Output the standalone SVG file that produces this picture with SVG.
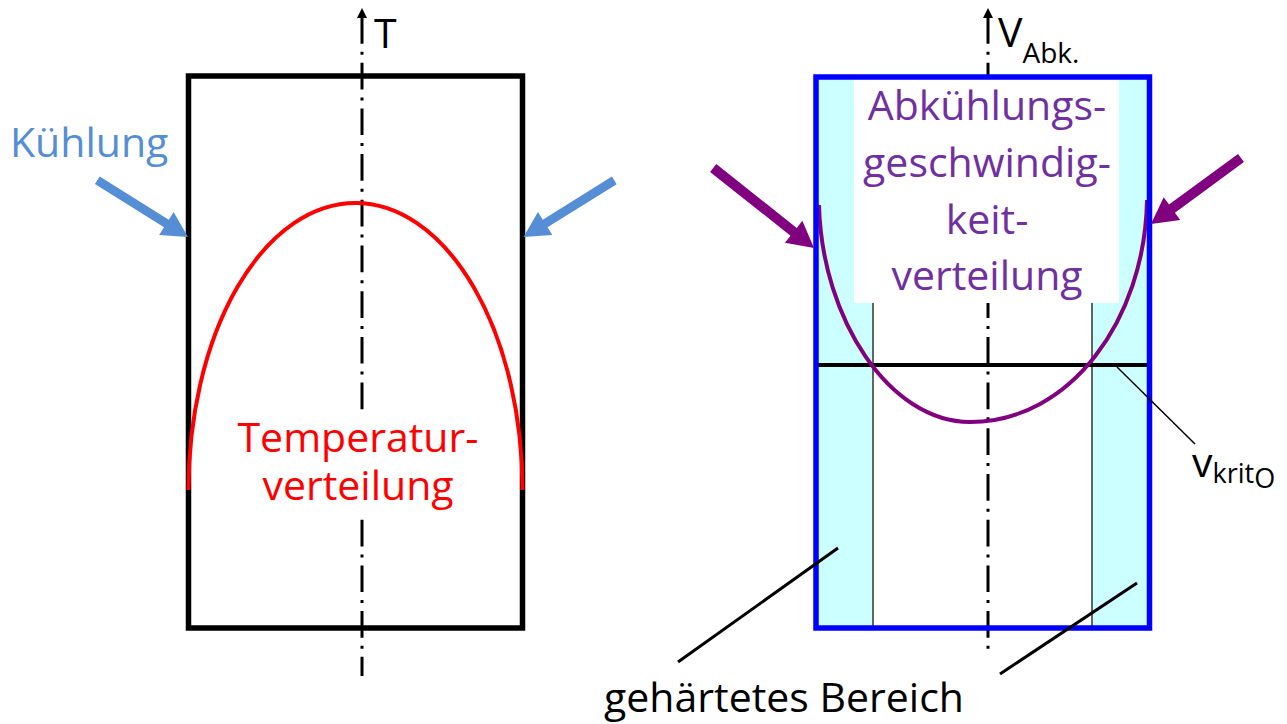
<svg xmlns="http://www.w3.org/2000/svg" width="1287" height="724" viewBox="0 0 1287 724">
  <style>
    .lbl { font-family: "Open Sans", "Noto Sans", "Liberation Sans", sans-serif; font-size: 41px; }
    .axis { stroke: #000; stroke-width: 3; stroke-dasharray: 26.7 8 3 8; fill: none; }
    .lead { stroke: #000; fill: none; }
    .blue-arrow { fill: #558ED5; }
    .purple-arrow { fill: #800080; }
  </style>
  <rect x="0" y="0" width="1287" height="724" fill="#fff"/>

  <!-- Left: temperature block -->
  <g id="left-block">
    <line class="axis" x1="362" y1="17" x2="362" y2="676"/>
    <polygon points="362,8 357,18 367,18" fill="#000"/>
    <text class="lbl" x="374" y="48" font-size="39">T</text>
    <rect x="188.5" y="76" width="334" height="552" fill="none" stroke="#000" stroke-width="5.5"/>
    <path d="M188.5,490 A167 287 0 0 1 522.5,490" fill="none" stroke="#FF0000" stroke-width="4"/>
    <rect x="232" y="410" width="252" height="108" fill="#fff"/>
    <text class="lbl" x="358" y="452" text-anchor="middle" fill="#FF0000">Temperatur-</text>
    <text class="lbl" x="358" y="500" text-anchor="middle" fill="#FF0000">verteilung</text>
  </g>

  <g id="cooling-label">
    <text class="lbl" x="10" y="157" fill="#558ED5">Kühlung</text>
  </g>

  <!-- Right: cooling rate block -->
  <g id="right-block">
    <rect x="818" y="78" width="55" height="549" fill="#CCFFFF"/>
    <rect x="1092" y="78" width="55" height="549" fill="#CCFFFF"/>
    <line class="axis" x1="988" y1="17" x2="988" y2="650"/>
    <polygon points="988,8 983,18 993,18" fill="#000"/>
    <rect x="854" y="79" width="265" height="224" fill="#fff"/>
    <line x1="873" y1="303" x2="873" y2="627" stroke="#333" stroke-width="1.5"/>
    <line x1="1092" y1="303" x2="1092" y2="627" stroke="#333" stroke-width="1.5"/>
    <line x1="818" y1="365" x2="1147" y2="365" stroke="#000" stroke-width="4"/>
    <path d="M819,205 C822,320 890,422 970,422 C1070,422 1145,320 1147,200" fill="none" stroke="#800080" stroke-width="4"/>
    <rect x="816" y="77" width="333.5" height="551" fill="none" stroke="#0000FF" stroke-width="5.5"/>
    <text class="lbl" x="998" y="47" font-size="44">V<tspan font-size="28" dy="16">Abk.</tspan></text>
    <g class="lbl" fill="#7030A0" text-anchor="middle">
      <text x="987" y="120">Abkühlungs-</text>
      <text x="987" y="177">geschwindig-</text>
      <text x="987" y="234">keit-</text>
      <text x="987" y="290">verteilung</text>
    </g>
    <text class="lbl" x="1192" y="477">v<tspan font-size="27" dy="6">krit</tspan><tspan font-size="27" dy="5">O</tspan></text>
  </g>

  <g id="hardened-label">
    <text class="lbl" x="784" y="712" font-size="42" text-anchor="middle">gehärtetes Bereich</text>
  </g>

  <!-- Connectors -->
  <g id="connectors">
    <g transform="translate(188,237) rotate(32.06)">
      <polygon class="blue-arrow" points="-107,-4.5 -25.5,-4.5 -25.5,-13.6 0,0 -25.5,13.6 -25.5,4.5 -107,4.5"/>
    </g>
    <g transform="translate(523.5,237) rotate(148.05)">
      <polygon class="blue-arrow" points="-107,-4.5 -25.5,-4.5 -25.5,-13.6 0,0 -25.5,13.6 -25.5,4.5 -107,4.5"/>
    </g>
    <g transform="translate(814,248) rotate(38.44)">
      <polygon class="purple-arrow" points="-128.7,-5 -26,-5 -26,-14 0,0 -26,14 -26,5 -128.7,5"/>
    </g>
    <g transform="translate(1151,224) rotate(143.75)">
      <polygon class="purple-arrow" points="-111.6,-5 -26,-5 -26,-14 0,0 -26,14 -26,5 -111.6,5"/>
    </g>
    <line class="lead" x1="1117" y1="367" x2="1195" y2="444" stroke-width="1.5"/>
    <line class="lead" x1="678" y1="662" x2="838" y2="548" stroke-width="3"/>
    <line class="lead" x1="1000" y1="674" x2="1137" y2="583" stroke-width="3"/>
  </g>
</svg>
